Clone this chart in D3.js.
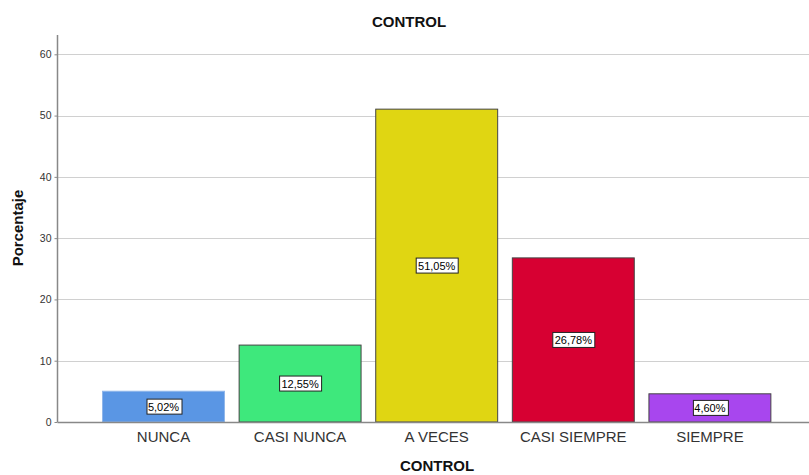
<!DOCTYPE html>
<html>
<head>
<meta charset="utf-8">
<script src="https://cdn.jsdelivr.net/npm/d3@7"></script>
<style>
  html, body { margin: 0; padding: 0; background: #fff; }
  svg { display: block; font-family: "Liberation Sans", Arial, sans-serif; }
</style>
</head>
<body>
<svg id="chart" width="809" height="475"></svg>
<script>
// Categories and their percentages
const categories = ["NUNCA", "CASI NUNCA", "A VECES", "CASI SIEMPRE", "SIEMPRE"];
const percentages = [5.02, 12.55, 51.05, 26.78, 4.60];
const barColors = ["#5A96E4", "#3EE87C", "#E0D612", "#D70032", "#A846EE"];
const barStrokes = ["#8fb6ea", "#444444", "#444444", "#444444", "#444444"];
const yTicks = [0, 10, 20, 30, 40, 50, 60];

const svg = d3.select("#chart");
const W = 809, H = 475;
const axisX = 57.5;
const y = d3.scaleLinear().domain([0, 60]).range([422, 54.3]);
const x = d3.scaleBand().domain(categories).range([95.2, 778.2])
  .paddingInner(0.1).paddingOuter(0.05);

// Gridlines
svg.append("g").selectAll("line").data(yTicks.filter(d => d > 0)).join("line")
  .attr("x1", axisX).attr("x2", W)
  .attr("y1", d => Math.round(y(d)) + 0.5).attr("y2", d => Math.round(y(d)) + 0.5)
  .attr("stroke", "#d0d0d0").attr("stroke-width", 1);

// Y axis
const yAxis = svg.append("g").attr("transform", `translate(${axisX},0)`)
  .call(d3.axisLeft(y).tickValues(yTicks).tickSize(3).tickPadding(3).tickFormat(d3.format("d")));
yAxis.select(".domain").remove();
yAxis.selectAll(".tick line").attr("stroke", "#888");
yAxis.selectAll(".tick text").attr("fill", "#333").style("font-size", "10.5px")
  .style("font-family", "'Liberation Sans', Arial, sans-serif");
svg.append("line").attr("x1", axisX).attr("x2", axisX).attr("y1", 35).attr("y2", y(0))
  .attr("stroke", "#888").attr("stroke-width", 1.5);

// Bars
svg.append("g").selectAll("rect").data(categories).join("rect")
  .attr("x", d => x(d) + 0.5)
  .attr("width", x.bandwidth() - 1)
  .attr("y", (d, i) => y(percentages[i]))
  .attr("height", (d, i) => y(0) - y(percentages[i]))
  .attr("fill", (d, i) => barColors[i])
  .attr("stroke", (d, i) => barStrokes[i])
  .attr("stroke-width", 1);

// X axis baseline
svg.append("line").attr("x1", axisX).attr("x2", W).attr("y1", y(0) + 0.5).attr("y2", y(0) + 0.5)
  .attr("stroke", "#888").attr("stroke-width", 1.5);

// Category labels
svg.append("g").selectAll("text").data(categories).join("text")
  .attr("x", d => x(d) + x.bandwidth() / 2)
  .attr("y", 442)
  .attr("text-anchor", "middle")
  .attr("fill", "#333")
  .style("font-size", "15px")
  .text(d => d);

// Value labels in white boxes at mid-height of each bar
const fmt = v => v.toFixed(2).replace(".", ",") + "%";
const lab = svg.append("g").selectAll("g").data(categories).join("g")
  .attr("transform", (d, i) => `translate(${x(d) + x.bandwidth() / 2},${(y(0) + y(percentages[i])) / 2})`);
lab.append("text")
  .attr("text-anchor", "middle")
  .attr("dy", "0.36em")
  .attr("fill", "#000")
  .style("font-size", "11px")
  .text((d, i) => fmt(percentages[i]));
lab.each(function () {
  const g = d3.select(this);
  const bb = g.select("text").node().getBBox();
  const w = Math.round(bb.width + 4);
  g.insert("rect", "text")
    .attr("x", Math.round(-w / 2) + 0.5)
    .attr("y", -7.5)
    .attr("width", w)
    .attr("height", 15)
    .attr("fill", "#fff")
    .attr("stroke", "#222")
    .attr("stroke-width", 1);
});

// Titles
svg.append("text").attr("x", 409).attr("y", 27).attr("text-anchor", "middle")
  .style("font-size", "15px").style("font-weight", "bold").attr("fill", "#111").text("CONTROL");
svg.append("text").attr("x", 437).attr("y", 471).attr("text-anchor", "middle")
  .style("font-size", "15px").style("font-weight", "bold").attr("fill", "#111").text("CONTROL");
svg.append("text").attr("transform", "translate(23,228) rotate(-90)").attr("text-anchor", "middle")
  .style("font-size", "15px").style("font-weight", "bold").attr("fill", "#111").text("Porcentaje");
</script>
</body>
</html>
